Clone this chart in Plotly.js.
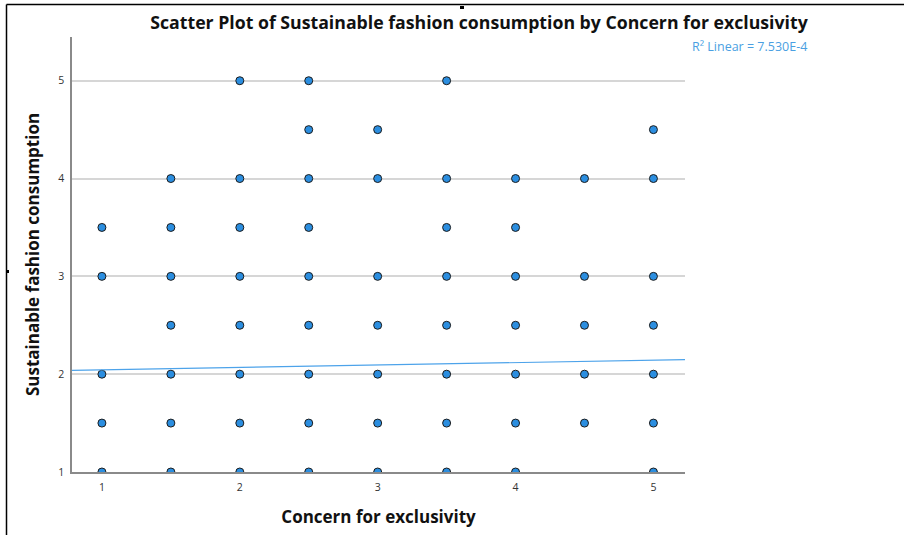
<!DOCTYPE html>
<html>
<head>
<meta charset="utf-8">
<script src="https://cdn.plot.ly/plotly-3.0.1.min.js"></script>
<style>html,body{margin:0;padding:0;background:#fff;}#chart{width:904px;height:535px;}</style>
</head>
<body>
<div id="chart"></div>
<script>
// ---- Data (Concern for exclusivity vs Sustainable fashion consumption)
const concernForExclusivity = [
  2, 2.5, 3.5,                              // y = 5
  2.5, 3, 5,                                // y = 4.5
  1.5, 2, 2.5, 3, 3.5, 4, 4.5, 5,           // y = 4
  1, 1.5, 2, 2.5, 3.5, 4,                   // y = 3.5
  1, 1.5, 2, 2.5, 3, 3.5, 4, 4.5, 5,        // y = 3
  1.5, 2, 2.5, 3, 3.5, 4, 4.5, 5,           // y = 2.5
  1, 1.5, 2, 2.5, 3, 3.5, 4, 4.5, 5,        // y = 2
  1, 1.5, 2, 2.5, 3, 3.5, 4, 4.5, 5,        // y = 1.5
  1, 1.5, 2, 2.5, 3, 3.5, 4, 5              // y = 1
];
const sustainableFashion = [
  5, 5, 5,
  4.5, 4.5, 4.5,
  4, 4, 4, 4, 4, 4, 4, 4,
  3.5, 3.5, 3.5, 3.5, 3.5, 3.5,
  3, 3, 3, 3, 3, 3, 3, 3, 3,
  2.5, 2.5, 2.5, 2.5, 2.5, 2.5, 2.5, 2.5,
  2, 2, 2, 2, 2, 2, 2, 2, 2,
  1.5, 1.5, 1.5, 1.5, 1.5, 1.5, 1.5, 1.5, 1.5,
  1, 1, 1, 1, 1, 1, 1, 1
];
const xTickVals = [1, 2, 3, 4, 5];
const yTickVals = [1, 2, 3, 4, 5];
const fitIntercept = 2.019;
const fitSlope = 0.0248;
const r2Label = "R\u00B2 Linear = 7.530E-4";
const chartTitle = "Scatter Plot of Sustainable fashion consumption by Concern for exclusivity";
const xTitle = "Concern for exclusivity";
const yTitle = "Sustainable fashion consumption";

// ---- Layout geometry
const W = 904, H = 535;
const M = {l: 72, r: 219, t: 37, b: 63};
const xRange = [0.783, 5.229];
const yRange = [1, 5.447];
const plotW = W - M.l - M.r, plotH = H - M.t - M.b;
const px2paperX = p => (p - M.l) / plotW;
const py2paperY = p => (H - M.b - p) / plotH;

const FONT = "'Open Sans', Roboto, sans-serif";
const fitX = xRange.slice();
const fitY = fitX.map(x => fitIntercept + fitSlope * x);

const traces = [
  {
    type: "scatter", mode: "markers",
    x: concernForExclusivity, y: sustainableFashion,
    marker: {size: 8, color: "#2b8ee0", line: {color: "#1c1c1c", width: 1}},
    cliponaxis: true, hoverinfo: "x+y", showlegend: false
  },
  {
    type: "scatter", mode: "lines",
    x: fitX, y: fitY,
    line: {color: "#4da3ea", width: 1.2},
    hoverinfo: "skip", showlegend: false
  }
];

const layout = {
  width: W, height: H,
  margin: M,
  paper_bgcolor: "#ffffff", plot_bgcolor: "#ffffff",
  font: {family: FONT, color: "#222"},
  title: {
    text: chartTitle,
    font: {family: FONT, size: 17.7, weight: 700, color: "#111"},
    xref: "container", x: 479 / W, xanchor: "center",
    yref: "container", y: 1 - 23 / H, yanchor: "middle"
  },
  xaxis: {
    range: xRange, tickvals: xTickVals, ticktext: xTickVals.map(String),
    showgrid: false, zeroline: false, showline: true,
    linecolor: "#8a8a8a", linewidth: 1.5, ticks: "",
    tickfont: {size: 10.5, color: "#333"},
    ticklabelstandoff: 5,
    title: {text: xTitle, font: {size: 17, weight: 700, color: "#111"}, standoff: 18},
    automargin: false, fixedrange: true
  },
  yaxis: {
    range: yRange, tickvals: yTickVals, ticktext: yTickVals.map(String),
    showgrid: true, gridcolor: "#d6d6d6", gridwidth: 1.5,
    zeroline: false, showline: true,
    linecolor: "#8a8a8a", linewidth: 1.5, ticks: "",
    tickfont: {size: 10.5, color: "#333"},
    ticklabelstandoff: 4,
    title: {text: yTitle, font: {size: 17, weight: 700, color: "#111"}, standoff: 14},
    automargin: false, fixedrange: true
  },
  annotations: [
    {
      text: r2Label, showarrow: false,
      xref: "paper", yref: "paper",
      x: px2paperX(690), xanchor: "left",
      y: py2paperY(46), yanchor: "middle",
      font: {size: 12.5, color: "#4a9fe2"}
    }
  ],
  shapes: [
    {type: "line", xref: "paper", yref: "paper",
     x0: px2paperX(6.5), x1: px2paperX(904), y0: py2paperY(4.5), y1: py2paperY(4.5),
     line: {color: "#000", width: 1.5}},
    {type: "line", xref: "paper", yref: "paper",
     x0: px2paperX(6.5), x1: px2paperX(6.5), y0: py2paperY(4.5), y1: py2paperY(535),
     line: {color: "#000", width: 1.5}},
    {type: "rect", xref: "paper", yref: "paper",
     x0: px2paperX(460), x1: px2paperX(464), y0: py2paperY(6), y1: py2paperY(9),
     fillcolor: "#000", line: {width: 0}},
    {type: "rect", xref: "paper", yref: "paper",
     x0: px2paperX(6), x1: px2paperX(9), y0: py2paperY(270), y1: py2paperY(273),
     fillcolor: "#000", line: {width: 0}}
  ]
};

Plotly.newPlot("chart", traces, layout, {displayModeBar: false, staticPlot: false});
</script>
</body>
</html>
